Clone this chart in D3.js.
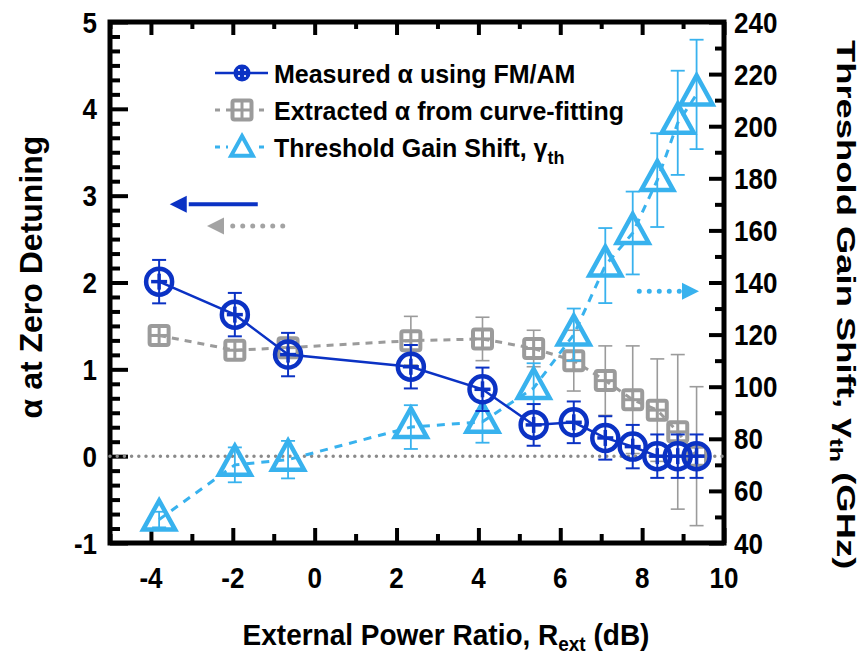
<!DOCTYPE html>
<html><head><meta charset="utf-8">
<script src="https://cdn.jsdelivr.net/npm/d3@7"></script>
<style>
body{margin:0;background:#fff}
text{font-family:"Liberation Sans",Arial,Helvetica,sans-serif;font-weight:bold;fill:#000}
</style>
</head><body>
<svg id="chart" width="868" height="660"></svg>
<script>
// ---------------- data ----------------
const rext = [-3.8, -1.95, -0.65, 2.35, 4.1, 5.35, 6.33, 7.1, 7.77, 8.37, 8.87, 9.33];
const alphaMeasured    = [2.01, 1.63, 1.17, 1.03, 0.77, 0.36, 0.39, 0.21, 0.11, 0.0, 0.0, 0.0];
const alphaMeasuredErr = [0.25, 0.25, 0.25, 0.25, 0.25, 0.24, 0.24, 0.25, 0.25, 0.25, 0.25, 0.25];
const alphaFit    = [1.39, 1.22, 1.25, 1.33, 1.35, 1.24, 1.10, 0.87, 0.65, 0.53, 0.28, 0.0];
const alphaFitErr = [0.0, 0.0, 0.1, 0.28, 0.25, 0.21, 0.35, 0.40, 0.62, 0.59, 0.89, 0.80];
const gammaTh    = [49, 70, 72, 84.5, 86.5, 99.5, 120, 146.5, 159, 179.3, 201.3, 212.2];
const gammaThErr = [3, 6.7, 7.2, 8.4, 8, 9.5, 10, 14.4, 15.9, 18, 20, 21];

const xTickValues = [-4, -2, 0, 2, 4, 6, 8, 10];
const xMinorTicks = [-5, -3, -1, 1, 3, 5, 7, 9];
const yLeftTickValues = [-1, 0, 1, 2, 3, 4, 5];
const yRightTickValues = [40, 60, 80, 100, 120, 140, 160, 180, 200, 220, 240];
const yRightMinorTicks = [50, 70, 90, 110, 130, 150, 170, 190, 210, 230];

const legendLabels = ["Measured \u03b1 using FM/AM", "Extracted \u03b1 from curve-fitting", "Threshold Gain Shift, \u03b3"];
// annotation arrows in data units: [xStart, xTip, yLeftValue]
const arrowMeasured = [-1.39, -3.54, 2.9];
const arrowFit      = [-0.78, -2.63, 2.65];
const arrowGamma    = [7.93, 9.39, 1.9];

// ---------------- setup ----------------
const BLUE = "#0b32c4", LBLUE = "#38b2ee", GRAY = "#9b9b9b";
const svg = d3.select("#chart");
const L = 110, R = 724, T = 22, B = 543;
const x  = d3.scaleLinear().domain([-5, 10]).range([L, R]);
const yL = d3.scaleLinear().domain([-1, 5]).range([B, T]);
const yR = d3.scaleLinear().domain([40, 240]).range([B, T]);

svg.append("rect").attr("width", 868).attr("height", 660).attr("fill", "#fff");

// ticks
function ticks(axis, tr) {
  const g = svg.append("g").attr("transform", tr).call(axis.tickFormat(""));
  g.select(".domain").remove();
  g.selectAll(".tick line").attr("stroke", "#000").attr("stroke-width", 4);
  return g;
}
const yLeftMinor = d3.range(-6, 31).map(i => i / 6).filter(v => Math.abs(v - Math.round(v)) > 1e-6);
ticks(d3.axisBottom(x).tickValues(xTickValues).tickSize(-15), `translate(0,${B})`);
ticks(d3.axisBottom(x).tickValues(xMinorTicks).tickSize(-9), `translate(0,${B})`);
ticks(d3.axisTop(x).tickValues(xTickValues).tickSize(-13), `translate(0,${T})`);
ticks(d3.axisTop(x).tickValues(xMinorTicks).tickSize(-7), `translate(0,${T})`);
ticks(d3.axisLeft(yL).tickValues(yLeftTickValues).tickSize(-18), `translate(${L},0)`);
ticks(d3.axisLeft(yL).tickValues(yLeftMinor).tickSize(-10), `translate(${L},0)`);
ticks(d3.axisRight(yR).tickValues(yRightTickValues).tickSize(-15), `translate(${R},0)`);
ticks(d3.axisRight(yR).tickValues(yRightMinorTicks).tickSize(-9), `translate(${R},0)`);

// frame
svg.append("rect").attr("x", L).attr("y", T).attr("width", R - L).attr("height", B - T)
  .attr("fill", "none").attr("stroke", "#000").attr("stroke-width", 5);

// tick labels (slightly tall glyphs as in the reference)
const SY = 1.13;
svg.append("g").selectAll("text").data(xTickValues).join("text")
  .attr("transform", d => `translate(${x(d)},588) scale(1,${SY})`).attr("text-anchor", "middle")
  .attr("font-size", 26).text(d => d);
svg.append("g").selectAll("text").data(yLeftTickValues).join("text")
  .attr("transform", d => `translate(97,${yL(d) + 10.5}) scale(1,${SY})`).attr("text-anchor", "end")
  .attr("font-size", 26).text(d => d);
svg.append("g").selectAll("text").data(yRightTickValues).join("text")
  .attr("transform", d => `translate(734,${yR(d) + 10.5}) scale(1,${SY})`).attr("text-anchor", "start")
  .attr("font-size", 26).text(d => d);

// axis titles
const xt = svg.append("text").attr("transform", "translate(446,645) scale(1,1.04)")
  .attr("text-anchor", "middle").attr("font-size", 28);
xt.append("tspan").text("External Power Ratio, R");
xt.append("tspan").attr("font-size", 19).attr("dy", 6).text("ext");
xt.append("tspan").attr("dy", -6).text(" (dB)");

svg.append("text").attr("transform", "translate(42,277) rotate(-90)").attr("text-anchor", "middle")
  .attr("font-size", 32).text("\u03b1 at Zero Detuning");

const rt = svg.append("text").attr("transform", "translate(837,40) rotate(90) scale(1.4,1)")
  .attr("text-anchor", "start").attr("font-size", 26);
rt.append("tspan").text("Threshold Gain Shift, \u03b3");
rt.append("tspan").attr("font-size", 18).attr("dy", 7).text("th");
rt.append("tspan").attr("dy", -7).text(" (GHz)");

// zero line
svg.append("line").attr("x1", x(-5)).attr("x2", x(10)).attr("y1", yL(0)).attr("y2", yL(0))
  .attr("stroke", "#8a8a8a").attr("stroke-width", 3.5).attr("stroke-linecap", "round")
  .attr("stroke-dasharray", "0,7.2");

// helpers
function errorBars(vals, errs, yS, color, w) {
  const g = svg.append("g").attr("stroke", color).attr("stroke-width", w);
  vals.forEach((v, i) => {
    const e = errs[i]; if (!e) return;
    const cx = x(rext[i]), y1 = yS(v - e), y2 = yS(v + e);
    g.append("line").attr("x1", cx).attr("x2", cx).attr("y1", y1).attr("y2", y2);
    g.append("line").attr("x1", cx - 7).attr("x2", cx + 7).attr("y1", y1).attr("y2", y1);
    g.append("line").attr("x1", cx - 7).attr("x2", cx + 7).attr("y1", y2).attr("y2", y2);
  });
}
function squareMarker(g, cx, cy, s, color) {
  g.append("rect").attr("x", cx - s / 2).attr("y", cy - s / 2).attr("width", s).attr("height", s)
    .attr("rx", 2).attr("fill", "none").attr("stroke", color).attr("stroke-width", 4);
  g.append("line").attr("x1", cx - s / 2).attr("x2", cx + s / 2).attr("y1", cy).attr("y2", cy)
    .attr("stroke", color).attr("stroke-width", 3);
  g.append("line").attr("x1", cx).attr("x2", cx).attr("y1", cy - s / 2).attr("y2", cy + s / 2)
    .attr("stroke", color).attr("stroke-width", 3);
}
function triPath(cx, cy, k) {
  return `M${cx},${cy - 19 * k}L${cx + 16 * k},${cy + 10 * k}L${cx - 16 * k},${cy + 10 * k}Z`;
}

// ---- gray: extracted alpha ----
errorBars(alphaFit, alphaFitErr, yL, GRAY, 1.6);
svg.append("path").datum(d3.zip(rext, alphaFit))
  .attr("d", d3.line().x(d => x(d[0])).y(d => yL(d[1])))
  .attr("fill", "none").attr("stroke", GRAY).attr("stroke-width", 3).attr("stroke-dasharray", "7,6");
const gq = svg.append("g");
alphaFit.forEach((v, i) => squareMarker(gq, x(rext[i]), yL(v), 19, GRAY));

// ---- light blue: threshold gain shift ----
errorBars(gammaTh, gammaThErr, yR, LBLUE, 1.8);
svg.append("path").datum(d3.zip(rext, gammaTh))
  .attr("d", d3.line().x(d => x(d[0])).y(d => yR(d[1])))
  .attr("fill", "none").attr("stroke", LBLUE).attr("stroke-width", 3).attr("stroke-dasharray", "8,7");
svg.append("g").selectAll("path").data(gammaTh).join("path")
  .attr("d", (v, i) => triPath(x(rext[i]), yR(v), 1))
  .attr("fill", "none").attr("stroke", LBLUE).attr("stroke-width", 4.5).attr("stroke-linejoin", "miter");

// ---- blue: measured alpha ----
errorBars(alphaMeasured, alphaMeasuredErr, yL, BLUE, 2);
svg.append("path").datum(d3.zip(rext, alphaMeasured))
  .attr("d", d3.line().x(d => x(d[0])).y(d => yL(d[1])))
  .attr("fill", "none").attr("stroke", BLUE).attr("stroke-width", 2.5);
const gc = svg.append("g");
alphaMeasured.forEach((v, i) => {
  const cx = x(rext[i]), cy = yL(v);
  gc.append("circle").attr("cx", cx).attr("cy", cy).attr("r", 13)
    .attr("fill", "none").attr("stroke", BLUE).attr("stroke-width", 4.5);
  gc.append("line").attr("x1", cx - 8).attr("x2", cx + 8).attr("y1", cy).attr("y2", cy)
    .attr("stroke", BLUE).attr("stroke-width", 3.5);
  gc.append("line").attr("x1", cx).attr("x2", cx).attr("y1", cy - 8).attr("y2", cy + 8)
    .attr("stroke", BLUE).attr("stroke-width", 3.5);
});

// ---- arrows ----
function arrow(a, color, dotted, yS) {
  const xs = x(a[0]), xt = x(a[1]), yy = yS(a[2]);
  const dir = Math.sign(xs - xt);
  const back = xt + dir * 17;
  const ln = svg.append("line").attr("x1", xs).attr("x2", back + dir * 2).attr("y1", yy).attr("y2", yy)
    .attr("stroke", color);
  if (dotted) ln.attr("stroke-width", 5).attr("stroke-linecap", "round").attr("stroke-dasharray", "0,10");
  else ln.attr("stroke-width", 4);
  svg.append("path").attr("d", `M${xt},${yy}L${back},${yy - 8.5}L${back},${yy + 8.5}Z`).attr("fill", color);
}
arrow(arrowMeasured, BLUE, false, yL);
arrow(arrowFit, "#a3a3a3", true, yL);
arrow(arrowGamma, LBLUE, true, yL);

// ---- legend ----
const legY = [73, 110, 147];
const lg = svg.append("g");
lg.append("line").attr("x1", 215).attr("x2", 268).attr("y1", legY[0]).attr("y2", legY[0])
  .attr("stroke", BLUE).attr("stroke-width", 2.5);
lg.append("circle").attr("cx", 242).attr("cy", legY[0]).attr("r", 8.5).attr("fill", BLUE);
[[-3,-3],[3,-3],[-3,3],[3,3]].forEach(p => lg.append("circle").attr("cx", 242 + p[0]).attr("cy", legY[0] + p[1]).attr("r", 1.1).attr("fill", "#fff"));
lg.append("line").attr("x1", 215).attr("x2", 268).attr("y1", legY[1]).attr("y2", legY[1])
  .attr("stroke", GRAY).attr("stroke-width", 3).attr("stroke-dasharray", "5,6");
lg.append("rect").attr("x", 231).attr("y", legY[1] - 12).attr("width", 22).attr("height", 23).attr("fill", "#fff");
squareMarker(lg, 242, legY[1], 19, GRAY);
lg.append("line").attr("x1", 215).attr("x2", 268).attr("y1", legY[2]).attr("y2", legY[2])
  .attr("stroke", LBLUE).attr("stroke-width", 3).attr("stroke-dasharray", "5,6");
lg.append("rect").attr("x", 228).attr("y", legY[2] - 14).attr("width", 28).attr("height", 26).attr("fill", "#fff");
lg.append("path").attr("d", triPath(242, legY[2] + 2, 0.68)).attr("fill", "none")
  .attr("stroke", LBLUE).attr("stroke-width", 4);
legendLabels.forEach((t, i) => {
  const tx = lg.append("text").attr("transform", `translate(274,${legY[i] + 9.5}) scale(1,1.06)`).attr("font-size", 25);
  tx.append("tspan").text(t);
  if (i === 2) tx.append("tspan").attr("font-size", 18).attr("dy", 7).text("th");
});
</script>
</body></html>
